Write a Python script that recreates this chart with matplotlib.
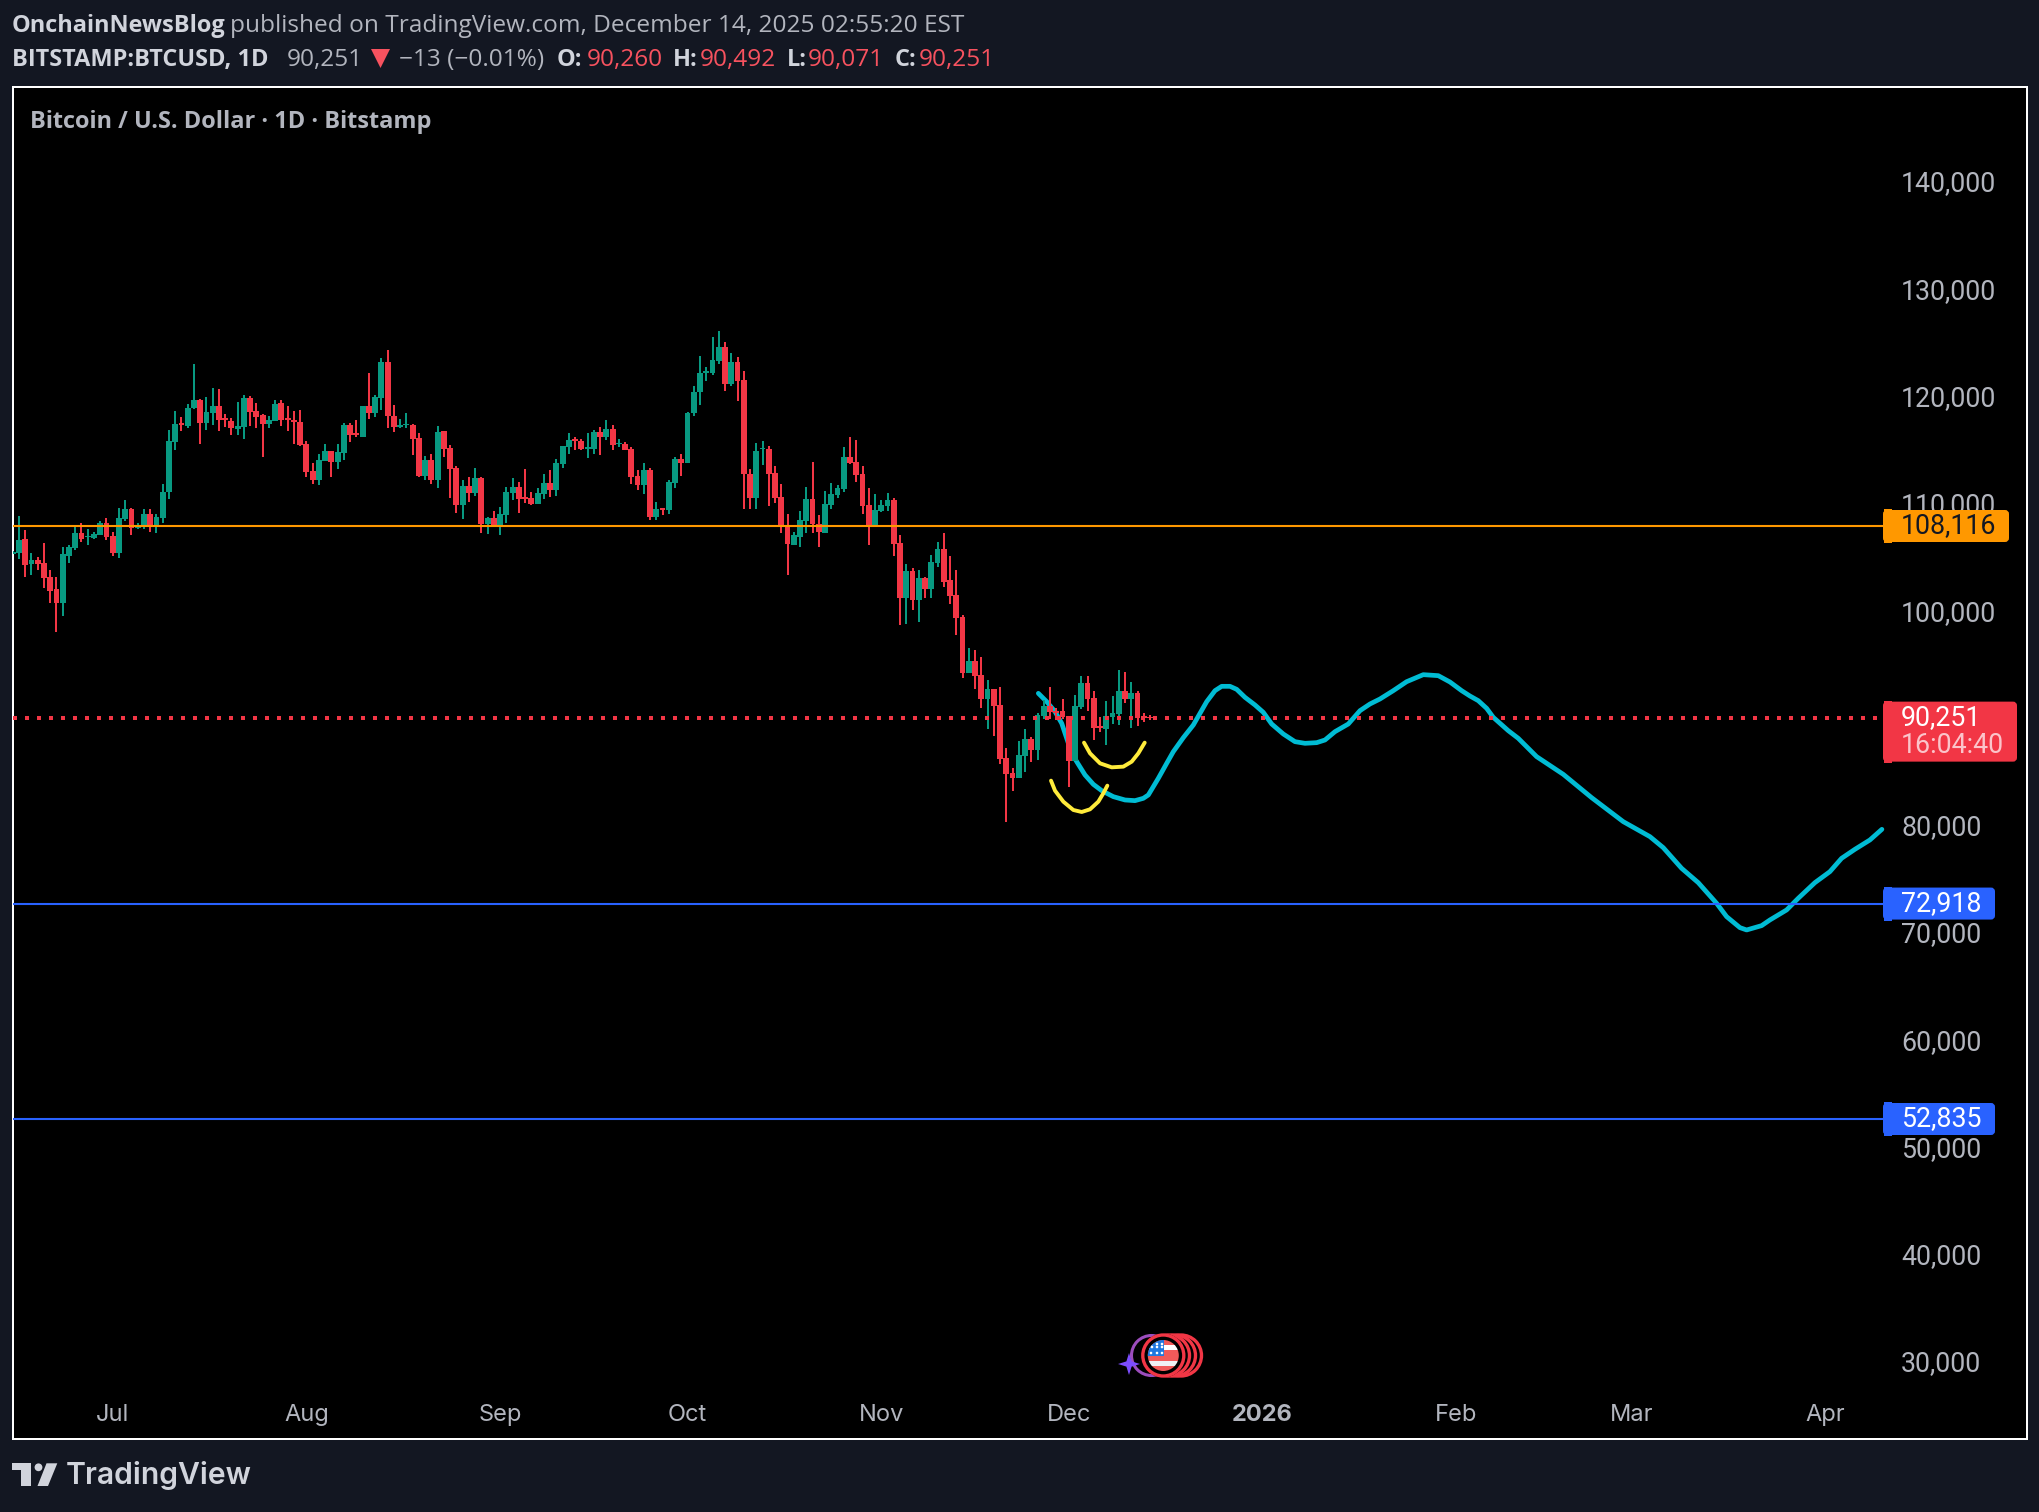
import numpy as np
import pandas as pd
import matplotlib
matplotlib.use('Agg')
import matplotlib.pyplot as plt
import matplotlib.dates as mdates
from matplotlib.patches import Rectangle, Circle, Polygon, FancyBboxPatch

# daily candles in thousand USD, last candle is 2025-12-14
opens = [
    105.54, 105.57, 106.91, 104.58, 104.95, 104.67, 103.37, 102.25, 100.94, 105.32,
    106.07, 107.47, 107.06, 107.00, 107.28, 108.40, 107.19, 105.60, 108.77, 109.70,
    107.96, 108.12, 109.24, 108.21, 108.86, 111.29, 115.95, 117.72, 117.44, 119.12,
    119.86, 117.72, 118.65, 119.30, 118.19, 117.91, 117.16, 117.35, 120.05, 118.84,
    118.47, 117.63, 117.91, 119.58, 118.19, 118.00, 117.81, 115.76, 113.25, 112.41,
    114.18, 115.11, 114.08, 114.92, 117.53, 116.79, 116.41, 119.30, 118.65, 120.05,
    123.41, 118.37, 117.38, 117.50, 117.53, 116.32, 112.78, 114.27, 112.41, 116.97,
    115.39, 113.52, 110.08, 111.85, 111.20, 112.59, 108.30, 108.86, 108.21, 109.14,
    111.20, 111.75, 110.82, 110.73, 110.17, 111.10, 112.13, 111.47, 113.90, 115.48,
    116.23, 116.04, 115.30, 115.30, 116.88, 116.41, 117.16, 115.73, 115.76, 115.30,
    112.78, 111.94, 113.34, 108.96, 109.80, 109.61, 112.13, 114.36, 113.99, 118.65,
    120.61, 122.38, 122.38, 123.50, 124.80, 121.35, 123.41, 121.73, 112.97, 110.73,
    115.27, 115.30, 113.06, 110.82, 108.21, 106.35, 107.09, 108.58, 110.64, 108.30,
    107.47, 110.08, 111.01, 111.57, 114.55, 114.08, 112.97, 110.08, 108.21, 109.52,
    109.98, 110.54, 106.53, 101.41, 103.92, 101.22, 103.27, 102.25, 104.67, 105.97,
    103.09, 101.69, 99.64, 94.42, 95.54, 94.23, 91.99, 92.93, 91.44, 86.50,
    85.10, 84.63, 86.68, 88.27, 87.24, 90.41, 91.34, 90.88, 90.88, 90.41,
    86.22, 91.25, 93.49, 92.09, 89.48, 89.20, 90.32, 90.60, 92.74, 91.99,
    92.55, 90.41, 90.26,
]
closes = [
    105.70, 106.81, 104.48, 104.95, 104.58, 103.27, 102.06, 100.94, 105.51, 106.16,
    107.47, 106.91, 107.16, 107.37, 108.40, 107.09, 105.60, 108.86, 109.70, 107.93,
    108.15, 109.24, 108.21, 108.96, 111.29, 116.04, 117.63, 117.53, 119.12, 119.86,
    117.72, 118.74, 119.30, 118.00, 118.00, 117.25, 117.44, 120.05, 118.74, 118.28,
    117.63, 118.00, 119.49, 118.00, 118.00, 117.84, 115.67, 113.15, 112.41, 114.27,
    115.11, 114.08, 115.02, 117.53, 116.60, 116.60, 119.30, 118.65, 120.14, 123.41,
    118.37, 117.35, 117.50, 117.63, 116.23, 112.78, 114.27, 112.41, 116.88, 115.30,
    113.43, 110.08, 111.85, 111.20, 112.59, 108.30, 108.86, 108.21, 109.24, 111.29,
    111.75, 110.64, 110.64, 110.17, 111.20, 112.13, 111.47, 113.99, 115.58, 116.13,
    116.07, 115.30, 115.48, 116.88, 116.41, 117.16, 115.67, 115.85, 115.20, 112.69,
    111.94, 113.34, 108.96, 109.70, 109.61, 112.22, 114.36, 113.99, 118.65, 120.61,
    122.38, 122.57, 123.59, 124.80, 121.35, 123.41, 121.63, 112.97, 110.73, 115.11,
    115.39, 112.97, 110.73, 108.12, 106.44, 107.28, 108.68, 110.64, 108.30, 107.56,
    110.17, 111.10, 111.66, 114.55, 113.99, 112.87, 109.98, 108.21, 109.61, 110.08,
    110.54, 106.44, 101.41, 103.92, 101.22, 103.27, 102.25, 104.76, 105.97, 102.90,
    101.59, 99.54, 94.42, 95.54, 94.14, 91.99, 92.93, 91.34, 86.40, 85.00,
    84.63, 86.78, 88.27, 87.24, 90.50, 91.34, 90.78, 90.72, 90.32, 86.22,
    91.34, 93.49, 91.99, 89.29, 89.32, 90.41, 90.69, 92.74, 91.99, 92.55,
    90.22, 90.22, 90.25,
]
highs = [
    105.76, 109.05, 107.75, 105.60, 105.23, 106.53, 104.02, 103.37, 106.16, 106.35,
    108.21, 108.40, 107.84, 107.56, 108.58, 108.86, 107.56, 109.80, 110.54, 109.80,
    108.40, 109.70, 109.70, 109.24, 112.03, 117.07, 118.84, 118.28, 119.49, 123.22,
    119.96, 120.14, 120.98, 120.89, 118.56, 118.19, 119.68, 120.33, 120.24, 119.58,
    118.56, 118.37, 119.86, 119.86, 119.30, 118.84, 118.93, 116.04, 113.99, 114.83,
    115.76, 115.11, 115.76, 117.72, 117.72, 118.00, 119.30, 122.38, 120.33, 123.78,
    124.52, 119.40, 118.09, 118.65, 117.63, 116.79, 114.64, 114.83, 117.44, 116.97,
    115.67, 113.71, 112.41, 112.69, 113.52, 112.69, 108.96, 109.52, 109.89, 111.75,
    112.59, 112.22, 113.43, 111.29, 111.66, 112.97, 113.34, 114.36, 115.58, 116.79,
    116.41, 116.23, 116.79, 117.07, 117.35, 118.00, 117.53, 116.23, 115.95, 115.48,
    113.34, 113.99, 113.52, 110.36, 109.80, 112.41, 114.55, 114.83, 118.74, 121.17,
    123.96, 122.94, 125.74, 126.29, 125.27, 124.24, 123.87, 122.57, 113.43, 115.85,
    116.04, 115.58, 113.71, 112.03, 109.24, 107.56, 109.52, 111.75, 114.08, 109.14,
    111.38, 112.13, 111.94, 115.48, 116.41, 116.13, 113.71, 111.66, 111.10, 110.54,
    111.20, 110.73, 107.28, 104.58, 104.20, 104.02, 103.37, 105.42, 106.63, 107.47,
    105.32, 104.02, 99.82, 96.75, 96.56, 95.91, 93.77, 92.93, 93.11, 87.43,
    85.56, 88.08, 89.20, 88.45, 90.69, 91.90, 93.11, 91.16, 91.99, 90.41,
    92.37, 94.14, 94.14, 92.74, 90.32, 91.81, 92.27, 94.70, 94.51, 93.58,
    92.74, 90.69, 90.49,
]
lows = [
    105.54, 105.07, 103.40, 103.55, 104.02, 102.37, 100.94, 98.24, 99.73, 104.67,
    105.88, 106.63, 106.35, 106.91, 107.28, 106.81, 105.32, 105.13, 108.58, 107.28,
    107.84, 107.84, 107.56, 107.47, 108.40, 110.64, 115.20, 116.97, 117.25, 119.02,
    115.76, 117.07, 117.53, 116.97, 117.35, 116.60, 116.60, 116.23, 117.44, 117.25,
    114.55, 117.25, 117.91, 117.44, 116.97, 115.76, 115.58, 112.69, 112.03, 111.94,
    114.18, 112.69, 113.43, 114.27, 115.95, 116.41, 116.41, 118.09, 118.28, 118.93,
    117.25, 116.88, 117.25, 117.25, 114.74, 112.69, 112.41, 112.03, 111.66, 114.55,
    110.73, 109.33, 108.77, 110.36, 110.92, 107.47, 107.37, 108.12, 107.28, 108.40,
    110.54, 109.33, 110.26, 110.08, 110.17, 110.64, 110.82, 110.92, 113.52, 114.83,
    115.20, 115.20, 114.46, 114.83, 114.74, 116.13, 115.20, 115.48, 115.20, 112.03,
    111.47, 111.10, 108.68, 108.68, 109.14, 109.24, 111.66, 112.78, 113.99, 118.37,
    119.40, 121.63, 122.19, 123.22, 120.70, 121.17, 119.77, 109.70, 109.70, 109.70,
    113.80, 109.98, 110.26, 107.47, 103.55, 106.35, 106.16, 107.47, 107.47, 106.16,
    107.47, 109.70, 110.73, 111.29, 113.90, 112.22, 109.24, 106.35, 108.21, 109.42,
    109.52, 105.32, 98.89, 98.98, 100.29, 99.17, 101.41, 101.41, 104.30, 102.43,
    100.85, 97.96, 93.95, 94.42, 92.93, 91.16, 89.20, 88.55, 85.94, 80.53,
    83.42, 84.63, 85.19, 86.12, 86.31, 90.13, 90.13, 90.04, 90.13, 83.79,
    86.22, 91.06, 90.88, 88.17, 88.92, 87.71, 89.67, 89.57, 91.62, 89.29,
    89.48, 89.85, 90.07,
]

# hand drawn cyan projection: days after the last candle, price
cyan_days = [
    -17.87, -16.53, -15.2, -14.13, -13.33, -12.53, -11.73, -10.4, -9.07, -7.73,
    -5.87, -4.0, -2.4, -1.07, -0.27, 1.33, 2.67, 3.73, 5.33, 6.93,
    8.0, 9.07, 10.4, 11.47, 12.8, 13.87, 15.2, 16.8, 18.13, 19.47,
    21.33, 23.2, 24.8, 26.67, 28.0, 29.6, 31.73, 33.6, 35.2, 36.8,
    38.93, 41.07, 43.73, 46.13, 48.0, 49.87, 51.2, 52.53, 53.87, 54.93,
    57.33, 58.93, 61.87, 66.13, 70.67, 75.73, 80.0, 82.13, 85.07, 87.73,
    90.67, 92.27, 94.4, 95.47, 97.87, 99.2, 101.87, 103.73, 106.4, 108.8,
    110.67, 112.8, 115.2, 117.12,
]
cyan_prices = [
    92517, 91740, 90808, 89721, 88323, 86924, 86148, 84905, 84035, 83445,
    82885, 82575, 82513, 82730, 83041, 84594, 85992, 87080, 88385, 89565,
    90653, 91740, 92766, 93170, 93170, 92890, 92144, 91430, 90746, 89659,
    88727, 88012, 87857, 87919, 88167, 88944, 89659, 90901, 91523, 91989,
    92766, 93604, 94257, 94164, 93573, 92766, 92268, 91833, 91119, 90280,
    89037, 88323, 86614, 84967, 82792, 80555, 79157, 78132, 76205, 74869,
    72943, 71700, 70675, 70457, 70860, 71389, 72322, 73409, 74869, 75894,
    77137, 77976, 78846, 79840,
]

# yellow hand drawn arcs
arc1_days = [-15.84, -15.2, -13.87, -12.27, -10.93, -9.6, -8.27, -7.47, -6.83]
arc1_prices = [84377, 83445, 82419, 81642, 81456, 81705, 82419, 83196, 83910]
arc2_days = [-10.56, -9.6, -8.0, -6.13, -4.27, -2.93, -1.87, -0.85]
arc2_prices = [87919, 86924, 85992, 85619, 85682, 86148, 86924, 87919]

orange_level = 108116
blue_levels = [72918, 52835]
last_price = 90251
price_ticks = [30000, 40000, 50000, 60000, 70000, 80000, 100000, 110000, 120000, 130000, 140000]
month_dates = ['2025-07-01', '2025-08-01', '2025-09-01', '2025-10-01', '2025-11-01',
               '2025-12-01', '2026-01-01', '2026-02-01', '2026-03-01', '2026-04-01']
month_labels = ['Jul', 'Aug', 'Sep', 'Oct', 'Nov', 'Dec', '2026', 'Feb', 'Mar', 'Apr']

W, H = 2040, 1512
BG = '#131722'
GREEN = '#089981'
RED = '#F23645'
BLUE = '#2962FF'
ORANGE = '#FF9800'
TEXT = '#d1d4dc'
AXIS = '#b2b5be'
HEAD_FONT = 'Open Sans'
AXIS_FONT = 'Inter'
PRICE_FONT = 'Roboto'
PRICE_SIZE = 19.3

fig = plt.figure(figsize=(W / 100, H / 100), dpi=100, facecolor=BG)
ax = fig.add_axes([13 / W, 1 - 1439 / H, 2014 / W, 1352 / H], facecolor='black')

dates = pd.date_range(end='2025-12-14', periods=len(opens))
x = mdates.date2num(dates)
o = np.array(opens) * 1000
c = np.array(closes) * 1000
h = np.array(highs) * 1000
l = np.array(lows) * 1000
colors = [GREEN if cl >= op else RED for op, cl in zip(o, c)]

ax.plot(x[-1] + np.array(cyan_days), cyan_prices, color='#00BCD4', lw=3.4,
        solid_joinstyle='round', solid_capstyle='round', zorder=1)
ax.plot(x[-1] + np.array(arc1_days), arc1_prices, color='#FFEB3B', lw=2.8,
        solid_capstyle='round', zorder=2)
ax.plot(x[-1] + np.array(arc2_days), arc2_prices, color='#FFEB3B', lw=2.8,
        solid_capstyle='round', zorder=2)

ax.vlines(x, l, h, colors=colors, lw=1.44, zorder=3)
ax.bar(x, np.maximum(np.abs(c - o), 100), bottom=np.minimum(o, c), width=0.93,
       color=colors, linewidth=0, antialiased=False, zorder=3)

line_end = 0.928
ax.axhline(orange_level, xmax=line_end, color=ORANGE, lw=1.5, zorder=5)
for level in blue_levels:
    ax.axhline(level, xmax=line_end, color=BLUE, lw=1.5, zorder=5)
ax.axhline(last_price, xmax=line_end, color=RED, lw=2.88, linestyle=(0, (1, 2)),
           dash_capstyle='butt', zorder=4)

ax.set_xlim(x[-1] - 181.95, x[-1] + 140.34)
ax.set_ylim(23003, 149041)

ax.set_xticks(mdates.date2num(pd.to_datetime(month_dates)))
ax.set_xticklabels(month_labels, family=AXIS_FONT, fontsize=17, color=AXIS)
ax.get_xticklabels()[6].set_fontweight('bold')
ax.tick_params(axis='x', length=0, pad=-25.5)

ax.yaxis.tick_right()
ax.set_yticks(price_ticks)
ax.set_yticklabels([f'{t:,}' for t in price_ticks], family=PRICE_FONT, fontsize=PRICE_SIZE,
                   color=AXIS, va='center')
ax.tick_params(axis='y', length=0, pad=-90.7)

for spine in ax.spines.values():
    spine.set_color('white')
    spine.set_linewidth(1.44)

# overlay in pixel coordinates for header, badges and logo
over = fig.add_axes([0, 0, 1, 1], facecolor='none')
over.set_xlim(0, W)
over.set_ylim(H, 0)
over.axis('off')


def price_y(v):
    fig_y = ax.transData.transform((x[-1], v))[1]
    return H - fig_y


def head(xp, yp, s, color=TEXT, bold=False):
    over.text(xp, yp, s, color=color, family=HEAD_FONT, fontsize=16.9 if bold else 17.6,
              fontweight='bold' if bold else 'normal', ha='left', va='center')


head(12, 26, 'OnchainNewsBlog', bold=True)
head(230, 26, 'published on TradingView.com, December 14, 2025 02:55:20 EST', color='#b2b5be')
head(12, 60, 'BITSTAMP:BTCUSD, 1D', bold=True)
head(287, 60, '90,251', color='#b2b5be')
over.add_patch(Polygon([(371, 49), (390, 49), (380.5, 68)], color='#f7525f', lw=0))
head(399, 60, '\u221213 (\u22120.01%)', color='#b2b5be')
for lab_x, lab, val_x, val in [(557, 'O:', 587, '90,260'), (673, 'H:', 700, '90,492'),
                               (787, 'L:', 808, '90,071'), (895, 'C:', 919, '90,251')]:
    head(lab_x, 60, lab, bold=True)
    head(val_x, 60, val, color='#f7525f')
head(30, 122.5, 'Bitcoin / U.S. Dollar \u00b7 1D \u00b7 Bitstamp', color='#b2b5be', bold=True)


def badge(y0, y1, right, color):
    over.add_patch(FancyBboxPatch((1884, y0 + 2), right - 1884, y1 - y0 - 4,
                                  boxstyle='round,pad=0,rounding_size=3', mutation_aspect=1,
                                  fc=color, ec=color, lw=2 * 0.72))
    over.add_patch(Rectangle((1884, y0), 8, y1 - y0, fc=color, ec='none'))


def badge_text(yp, s, color):
    over.text(1901, yp, s, color=color, family=PRICE_FONT, fontsize=PRICE_SIZE, ha='left', va='center')


y_o = price_y(orange_level)
badge(y_o - 17, y_o + 17, 2008, ORANGE)
badge_text(y_o, f'{orange_level:,}', '#131722')
for level in blue_levels:
    y_b = price_y(level)
    badge(y_b - 17, y_b + 17, 1994, BLUE)
    badge_text(y_b, f'{level:,}', 'white')
y_r = price_y(last_price)
badge(y_r - 17, y_r + 45, 2016, RED)
badge_text(y_r, f'{last_price:,}', 'white')
badge_text(y_r + 28, '16:04:40', '#fbc4ca')

# news icon
for cx in [1181, 1175, 1169]:
    over.add_patch(Circle((cx, 1355.5), 20.5, fc='black', ec='#F23645', lw=2.4))
over.add_patch(Circle((1151.5, 1355.5), 20, fc='none', ec='#9c4dbd', lw=2.2, zorder=1))
over.add_patch(Circle((1163.3, 1355.5), 22, fc='black', ec='none', zorder=2))
over.add_patch(Circle((1163.3, 1355.5), 20.5, fc='black', ec='#F23645', lw=2.4, zorder=2))
flag = Circle((1163.3, 1355.5), 15.5, transform=over.transData)
stripes = [(1340, 5.2, '#f05a5a'), (1345.2, 5.2, 'white'), (1350.4, 5.2, '#f05a5a'),
           (1355.6, 5.2, '#f05a5a'), (1360.8, 5.2, '#f0f0f5'), (1366, 5.2, '#f05a5a')]
for y0, hh, col in stripes:
    p = over.add_patch(Rectangle((1147, y0), 34, hh, fc=col, ec='none', zorder=3))
    p.set_clip_path(flag)
p = over.add_patch(Rectangle((1147, 1340), 17, 16, fc='#1f78e0', ec='none', zorder=3))
p.set_clip_path(flag)
for sx, sy in [(1151, 1353), (1157, 1353), (1162, 1353), (1152, 1347), (1157, 1347), (1162, 1347),
               (1157, 1344), (1162, 1344)]:
    p = over.add_patch(Circle((sx, sy), 1.3, fc='white', ec='none', zorder=4))
    p.set_clip_path(flag)
star_x, star_y, r, q = 1129, 1364, 11, 2.6
over.add_patch(Polygon([(star_x, star_y - r), (star_x + q, star_y - q), (star_x + r, star_y),
                        (star_x + q, star_y + q), (star_x, star_y + r), (star_x - q, star_y + q),
                        (star_x - r, star_y), (star_x - q, star_y - q)],
                       fc='#7c4dff', ec='none', zorder=5))

# TradingView logo
logo = '#d1d4dc'
over.add_patch(Polygon([(12, 1463.3), (30.7, 1463.3), (30.7, 1486), (20.7, 1486), (20.7, 1470), (12, 1470)],
                       fc=logo, ec='none'))
over.add_patch(Circle((38.5, 1467.3), 3.9, fc=logo, ec='none'))
over.add_patch(Polygon([(46.5, 1463.3), (57.3, 1463.3), (48, 1486), (37.5, 1486)], fc=logo, ec='none'))
over.text(66, 1476, 'TradingView', color=logo, family='Inter', fontsize=21.7, fontweight='semibold',
          ha='left', va='center')

fig.savefig('out.png', dpi=100, facecolor=BG)
